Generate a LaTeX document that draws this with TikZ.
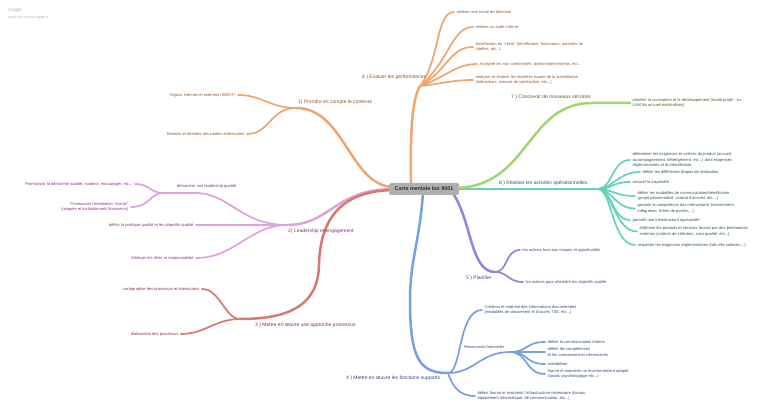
\documentclass[tikz,border=0pt]{standalone}
\usepackage{fontspec}
\setmainfont{Liberation Sans}
\pgfdeclarelayer{background}
\pgfsetlayers{background,main}
\definecolor{orL}{RGB}{238,165,110}
\definecolor{orT}{RGB}{140,85,50}
\definecolor{piL}{RGB}{224,160,226}
\definecolor{piT}{RGB}{130,50,130}
\definecolor{reL}{RGB}{218,120,112}
\definecolor{reT}{RGB}{140,50,50}
\definecolor{blL}{RGB}{120,160,225}
\definecolor{blT}{RGB}{50,70,120}
\definecolor{puL}{RGB}{150,130,220}
\definecolor{puT}{RGB}{80,60,140}
\definecolor{teL}{RGB}{100,210,190}
\definecolor{teT}{RGB}{40,90,80}
\definecolor{grL}{RGB}{160,215,110}
\definecolor{grT}{RGB}{70,100,40}
\definecolor{rootF}{RGB}{176,176,176}
\definecolor{wmT}{RGB}{175,175,175}
\tikzset{
  leaf/.style={inner xsep=2.5pt, inner ysep=0pt, font=\fontsize{4.05}{5.6}\selectfont, align=left},
  leafr/.style={leaf, align=right},
  blabel/.style={inner sep=0pt, font=\fontsize{5}{6}\selectfont},
  mainline/.style={line width=2.5pt, line cap=round},
  subline/.style={line width=1.7pt, line cap=round},
}
\begin{document}
\begin{tikzpicture}[x=1pt,y=-1pt]
\useasboundingbox (0,0) rectangle (768,414);
% watermark
\node[anchor=west, inner sep=0pt, text=wmT, font=\fontsize{4.6}{5}\selectfont] (wm1) at (8,10) {coggle};
\node[anchor=west, inner sep=0pt, text=wmT, font=\fontsize{3.6}{4}\selectfont] (wm2) at (8,18) {made for free at coggle.it};

% root
\node[fill=rootF, rounded corners=1.5pt, minimum width=70pt, minimum height=12pt, inner sep=1pt, font=\fontsize{5.4}{6}\selectfont\bfseries, text={rgb,255:red,45;green,45;blue,45}] (root) at (424,189) {Carte mentale Iso 9001};

% start coordinates (inside root box)
\coordinate (s6) at (411,189);
\coordinate (s1) at (394,187);
\coordinate (s2) at (394,189);
\coordinate (s3) at (396,190);
\coordinate (s4) at (423,192);
\coordinate (s5) at (452,192);
\coordinate (s8) at (452,189);
\coordinate (s7) at (452,188);

% hubs
\coordinate (hub6) at (420,86);
\coordinate (hub1) at (296,108);
\coordinate (hub2) at (287,225);
\coordinate (hubL) at (163,193);
\coordinate (hub3) at (240,319);
\coordinate (r3m) at (319,265);
\coordinate (hub4) at (448,373);
\coordinate (b4m) at (410,300);
\coordinate (hubRH) at (510,352);
\coordinate (hub5) at (495,272);
\coordinate (hub8) at (598,189);
\coordinate (hub7) at (592,103);

% ---- branch 6
\node[blabel, anchor=west, text=orT] (l6) at (362,77) {6 ) Évaluer les performances};
\node[leaf, anchor=west, text=orT] (c61) at (454,12) {réaliser une revue de direction};
\node[leaf, anchor=west, text=orT] (c62) at (473,27) {réaliser un audit interne};
\node[leaf, anchor=west, text=orT] (c63) at (473,47) {Satisfaction du "client" (bénéficiaire, financeurs, autorités de\\tutelles, etc...)};
\node[leaf, anchor=west, text=orT] (c64) at (477,64) {Analyser les non conformités, dysfonctionnements, etc...};
\node[leaf, anchor=west, text=orT] (c65) at (473,80) {analyser et évaluer les données issues de la surveillance\\(indicateurs, mesure de satisfaction, etc...)};

% ---- branch 1
\node[blabel, anchor=west, text=orT] (l1) at (298,102) {1) Prendre en compte le contexte};
\node[leafr, anchor=east, text=orT] (c11) at (238,95) {Enjeux internes et externes (SWOT)};
\node[leafr, anchor=east, text=orT] (c12) at (247,134) {Besoins et attentes des parties intéressées};

% ---- branch 2
\node[blabel, anchor=west, text=piT] (l2) at (288,231) {2) Leadership et engagement};
\node[leaf, anchor=west, inner xsep=0pt, text=piT] (nL) at (177,186) {démontrer son leadership qualité};
\node[leafr, anchor=east, text=piT] (c2a) at (135,184) {Promouvoir la démarche qualité, soutenir, encourager, etc...};
\node[leafr, anchor=east, text=piT] (c2b) at (131,207) {Promouvoir l'orientation "clients"\\(usagers et institutionnels financeurs)};
\node[leafr, anchor=east, text=piT] (c2c) at (196,225) {définir la politique qualité et les objectifs qualité};
\node[leafr, anchor=east, text=piT] (c2d) at (196,258) {Attribuer les rôles et responsabilité};

% ---- branch 3
\node[blabel, anchor=west, text=reT] (l3) at (255,325) {3 ) Mettre en œuvre une approche processus};
\node[leafr, anchor=east, text=reT] (c31) at (202,289) {cartographie des processus et interactions};
\node[leafr, anchor=east, text=reT] (c32) at (181,334) {élaboration des processus};

% ---- branch 4
\node[blabel, anchor=west, text=blT] (l4) at (346,378) {4 ) Mettre en œuvre les fonctions supports};
\node[leaf, anchor=west, text=blT] (c41) at (482,310) {Création et maîtrise des informations documentées\\(modalités de classement et d'accès TSE, etc...)};
\node[leaf, anchor=west, inner xsep=0pt, text=blT] (nRH) at (464,347) {Ressources humaines};
\node[leaf, anchor=west, text=blT] (c4a) at (545,342) {définir la communication interne};
\node[leaf, anchor=west, text=blT] (c4b) at (545,352) {définir les compétences\\et les connaissances nécessaires};
\node[leaf, anchor=west, text=blT] (c4c) at (545,364) {sensibiliser};
\node[leaf, anchor=west, text=blT] (c4d) at (545,374) {fournir et maintenir un environnement adapté\\(social, psychologique etc...)};
\node[leaf, anchor=west, text=blT] (c42) at (475,396) {définir fournir et maintenir l'infrastructure nécessaire (locaux,\\équipement informatique, de communication, etc...)};

% ---- branch 5
\node[blabel, anchor=west, text=puT] (l5) at (466,278) {5 ) Planifier};
\node[leaf, anchor=west, text=puT] (c51) at (520,250) {les actions face aux risques et opportunités.};
\node[leaf, anchor=west, text=puT] (c52) at (523,282) {les actions pour atteindre les objectifs qualité};

% ---- branch 8
\node[blabel, anchor=west, text=teT] (l8) at (499,183) {8 ) Réaliser les activités opérationnelles};
\node[leaf, anchor=west, text=teT] (t1) at (630,160) {déterminer les exigences et critères du produit (accueil,\\accompagnement, hébergement, etc...) dont exigences\\réglementaires et du bénéficiaire.};
\node[leaf, anchor=west, text=teT] (t2) at (640,172) {définir les différentes étapes de réalisation.};
\node[leaf, anchor=west, text=teT] (t3) at (630,182) {assurer la traçabilité.};
\node[leaf, anchor=west, text=teT] (t4) at (635,196) {définir les modalités de communication/bénéficiaire\\(projet personnalisé, contrat d'accueil, etc....)};
\node[leaf, anchor=west, text=teT] (t5) at (635,208.5) {garantir la compétence des intervenants (recrutement,\\intégration, fiches de postes,...)};
\node[leaf, anchor=west, text=teT] (t6) at (630,220) {garantir une infrastructure appropriée};
\node[leaf, anchor=west, text=teT] (t7) at (637,231.5) {Maîtriser les produits et services fournis par des prestataires\\externes (critères de sélection, suivi qualité, etc...)};
\node[leaf, anchor=west, text=teT] (t8) at (635,245) {respecter les exigences réglementaires (tofs des salariés,...)};

% ---- branch 7
\node[blabel, anchor=west, text=grT] (l7) at (511,97) {7 ) Concevoir de nouveaux services};
\node[leaf, anchor=west, text=grT] (g1) at (630,103) {planifier la conception et le développement (mode projet - ex.\\LAM lits accueil médicalisés)};

\begin{pgfonlayer}{background}
% orange 6
\draw[mainline, orL] (s6) .. controls (410,130) and (412,100) .. (hub6);
\draw[subline, orL] (hub6) .. controls (440,60) and (436,12) .. (c61.west);
\draw[subline, orL] (hub6) .. controls (450,60) and (452,27) .. (c62.west);
\draw[subline, orL] (hub6) .. controls (448,70) and (450,47) .. (c63.west);
\draw[subline, orL] (hub6) .. controls (445,78) and (455,64) .. (c64.west);
\draw[subline, orL] (hub6) .. controls (440,84) and (452,80) .. (c65.west);
% orange 1
\draw[mainline, orL] (s1) .. controls (350,187) and (345,108) .. (hub1);
\draw[subline, orL] (hub1) .. controls (270,108) and (262,95) .. (c11.east);
\draw[subline, orL] (hub1) .. controls (270,108) and (270,134) .. (c12.east);
% pink 2
\draw[mainline, piL] (s2) .. controls (335,189) and (330,225) .. (hub2);
\draw[subline, piL] (hub2) .. controls (240,225) and (230,193) .. (195,193) -- (hubL);
\draw[subline, piL] (hubL) .. controls (150,193) and (150,184) .. (c2a.east);
\draw[subline, piL] (hubL) .. controls (150,193) and (150,207) .. (c2b.east);
\draw[subline, piL] (hub2) -- (c2c.east);
\draw[subline, piL] (hub2) .. controls (250,225) and (235,258) .. (c2d.east);
% red 3
\draw[mainline, reL] (s3) .. controls (340,190) and (320,220) .. (r3m) .. controls (318,305) and (290,319) .. (hub3);
\draw[subline, reL] (hub3) .. controls (225,319) and (220,289) .. (c31.east);
\draw[subline, reL] (hub3) .. controls (215,319) and (205,334) .. (c32.east);
% blue 4
\draw[mainline, blL] (s4) .. controls (420,240) and (410,260) .. (b4m) .. controls (410,360) and (420,373) .. (hub4);
\draw[subline, blL] (hub4) .. controls (462,373) and (458,310) .. (c41.west);
\draw[subline, blL] (hub4) .. controls (475,373) and (480,352) .. (hubRH);
\draw[subline, blL] (hubRH) .. controls (528,352) and (525,342) .. (c4a.west);
\draw[subline, blL] (hubRH) -- (c4b.west);
\draw[subline, blL] (hubRH) .. controls (528,352) and (525,364) .. (c4c.west);
\draw[subline, blL] (hubRH) .. controls (528,352) and (525,374) .. (c4d.west);
\draw[subline, blL] (hub4) .. controls (452,385) and (458,396) .. (c42.west);
% purple 5
\draw[mainline, puL] (s5) .. controls (472,220) and (470,272) .. (hub5);
\draw[subline, puL] (hub5) .. controls (508,272) and (505,250) .. (c51.west);
\draw[subline, puL] (hub5) .. controls (508,272) and (508,282) .. (c52.west);
% teal 8
\draw[mainline, teL] (s8) -- (hub8);
\draw[subline, teL] (hub8) .. controls (612,189) and (612,160) .. (t1.west);
\draw[subline, teL] (hub8) .. controls (612,189) and (618,172) .. (t2.west);
\draw[subline, teL] (hub8) .. controls (612,189) and (612,182) .. (t3.west);
\draw[subline, teL] (hub8) .. controls (612,189) and (615,196) .. (t4.west);
\draw[subline, teL] (hub8) .. controls (612,189) and (615,208.5) .. (t5.west);
\draw[subline, teL] (hub8) .. controls (612,189) and (612,220) .. (t6.west);
\draw[subline, teL] (hub8) .. controls (612,189) and (615,231.5) .. (t7.west);
\draw[subline, teL] (hub8) .. controls (612,189) and (612,245) .. (t8.west);
% green 7
\draw[mainline, grL] (s7) .. controls (530,189) and (525,103) .. (hub7) -- (g1.west);
\end{pgfonlayer}
\end{tikzpicture}
\end{document}
